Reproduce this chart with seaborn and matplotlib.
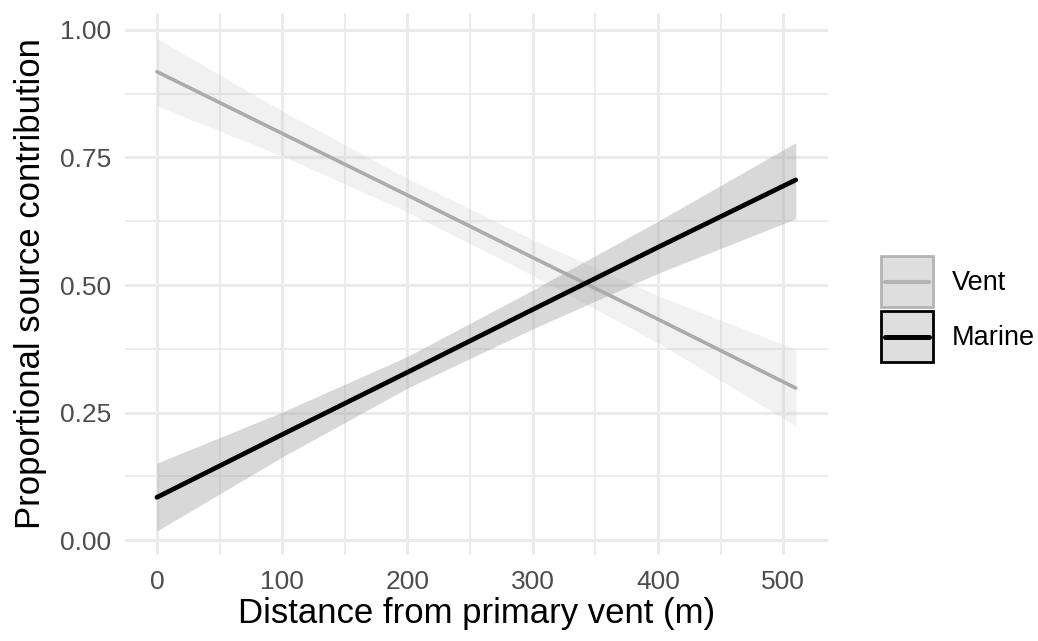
import numpy as np
import pandas as pd
import matplotlib
matplotlib.use("Agg")
import matplotlib.pyplot as plt
from matplotlib.patches import Rectangle
from matplotlib.lines import Line2D
from matplotlib.legend_handler import HandlerBase
from matplotlib.ticker import MultipleLocator, FormatStrFormatter
import seaborn as sns

# Fitted proportional contributions along the distance gradient
distance = [0, 100, 200, 300, 400, 510]
vent_fit = [0.918, 0.797, 0.676, 0.554, 0.433, 0.298]
vent_lower = [0.851, 0.753, 0.643, 0.519, 0.387, 0.224]
vent_upper = [0.983, 0.841, 0.709, 0.589, 0.479, 0.374]
marine_fit = [0.084, 0.207, 0.329, 0.452, 0.574, 0.706]
marine_lower = [0.018, 0.163, 0.298, 0.414, 0.523, 0.630]
marine_upper = [0.151, 0.251, 0.360, 0.490, 0.625, 0.779]

sources = ["Vent", "Marine"]
line_colors = {"Vent": "#ABABAB", "Marine": "#000000"}
line_widths = {"Vent": 2.6, "Marine": 3.4}
band_colors = {"Vent": ("#C8C8C8", 0.25), "Marine": ("#9A9A9A", 0.38)}

fits = pd.DataFrame({
    "distance": distance * 2,
    "contribution": vent_fit + marine_fit,
    "source": ["Vent"] * len(distance) + ["Marine"] * len(distance),
})
bands = {"Vent": (vent_lower, vent_upper), "Marine": (marine_lower, marine_upper)}

sns.set_theme(style="white")
plt.rcParams["font.family"] = ["Liberation Sans", "DejaVu Sans"]

fig = plt.figure(figsize=(10.38, 6.41), dpi=100)
ax = fig.add_axes([0.1204, 0.1342, 0.677, 0.8455])

for src in sources:
    lo, hi = bands[src]
    col, a = band_colors[src]
    ax.fill_between(distance, lo, hi, color=col, alpha=a, linewidth=0, zorder=2)

for src in sources:
    sub = fits[fits["source"] == src]
    sns.lineplot(data=sub, x="distance", y="contribution", color=line_colors[src],
                 linewidth=line_widths[src], ax=ax, legend=False, zorder=3)

ax.set_xlim(-25.5, 535.5)
ax.set_ylim(-0.029, 1.033)
ax.xaxis.set_major_locator(MultipleLocator(100))
ax.xaxis.set_minor_locator(MultipleLocator(50))
ax.yaxis.set_major_locator(MultipleLocator(0.25))
ax.yaxis.set_minor_locator(MultipleLocator(0.125))
ax.yaxis.set_major_formatter(FormatStrFormatter("%.2f"))

ax.grid(which="major", color="#EBEBEB", linewidth=2.2, zorder=0)
ax.grid(which="minor", color="#EBEBEB", linewidth=1.3, zorder=0)
ax.set_axisbelow(True)
for sp in ax.spines.values():
    sp.set_visible(False)
ax.tick_params(which="both", length=0, labelsize=19, labelcolor="#4D4D4D")
ax.tick_params(axis="x", pad=11)
ax.tick_params(axis="y", pad=10)

ax.set_xlabel("Distance from primary vent (m)", fontsize=25, color="black", labelpad=2)
ax.set_ylabel("Proportional source contribution", fontsize=25, color="black", labelpad=9)


class KeyHandler(HandlerBase):
    def __init__(self, color, lw, edge_lw):
        super().__init__()
        self.color = color
        self.lw = lw
        self.edge_lw = edge_lw

    def create_artists(self, legend, orig_handle, xdescent, ydescent, width, height, fontsize, trans):
        rect = Rectangle((-xdescent, -ydescent), width, height,
                         facecolor="#DEDEDE", edgecolor=self.color, linewidth=self.edge_lw,
                         transform=trans)
        yc = -ydescent + height / 2
        line = Line2D([-xdescent + 3, -xdescent + width - 3], [yc, yc], color=self.color,
                      linewidth=self.lw, transform=trans)
        return [rect, line]


handles = [Line2D([], []), Line2D([], [])]
leg = fig.legend(handles, sources, loc="upper left", bbox_to_anchor=(0.8487, 0.6006),
                 frameon=False, fontsize=19.5, handlelength=1.93, handleheight=2.53,
                 handletextpad=0.7, labelspacing=0.15, borderpad=0, borderaxespad=0,
                 labelcolor="black",
                 handler_map={handles[0]: KeyHandler("#B4B4B4", 3.0, 2.0),
                              handles[1]: KeyHandler(line_colors["Marine"], 3.6, 2.0)})

fig.savefig("out.png", dpi=100)
